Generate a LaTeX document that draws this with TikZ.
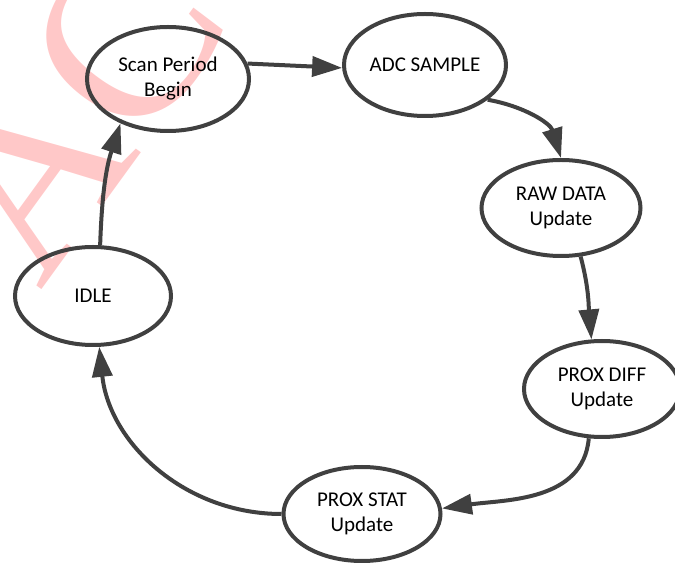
\documentclass[tikz,border=0pt]{standalone}
\usepackage{fontspec}
\setmainfont{Carlito}
\newfontfamily\markfont{Liberation Serif}
\usetikzlibrary{shapes.geometric,arrows.meta}

\definecolor{linegray}{HTML}{404040}
\definecolor{markpink}{RGB}{255,200,200}

\begin{document}
\begin{tikzpicture}[x=1pt, y=1pt,
    state/.style={ellipse, draw=linegray, line width=4pt, inner sep=0pt,
        minimum width=157pt, minimum height=96pt, align=center,
        font=\fontsize{21}{25}\selectfont},
    flow/.style={draw=linegray, line width=4pt,
        -{Triangle[length=30pt, width=20pt]}}]

    % --- Page frame ---
    \useasboundingbox (0,0) rectangle (675,565);

    % --- Watermark ---
    \begin{scope}
        \clip (0,0) rectangle (675,565);
        \node[anchor=base west, rotate=54, inner sep=0pt, text=markpink,
            font=\markfont\fontsize{240}{240}\selectfont] (mark) at (40,273)
            {ACCEPTED MANUSCRIPT};
    \end{scope}

    % --- States ---
    \node[state, minimum width=162pt, minimum height=104pt] (scan) at (168,486) {Scan Period\\Begin};
    \node[state, minimum width=162pt, minimum height=102pt] (adc) at (425,500) {ADC SAMPLE};
    \node[state, minimum width=159pt] (raw) at (561,357) {RAW DATA\\Update};
    \node[state, minimum width=156pt] (diff) at (602,176) {PROX DIFF\\Update};
    \node[state, minimum height=94pt] (stat) at (362,51) {PROX STAT\\Update};
    \node[state, minimum width=156pt, minimum height=98pt] (idle) at (93,269) {IDLE};

    % --- Transitions ---
    \draw[flow] (scan.11) -- (adc.182);
    \draw[flow] (adc.-29) to[out=-10, in=107] (raw.90);
    \draw[flow] (raw.-68) to[out=-75, in=95] (diff.102);
    \draw[flow] (diff.-105) to[out=-95, in=8] (stat.4);
    \draw[flow] (stat.180) to[out=180, in=-84] (idle.-83);
    \draw[flow] (idle.82) to[out=88, in=-108] (scan.-137);

\end{tikzpicture}
\end{document}
